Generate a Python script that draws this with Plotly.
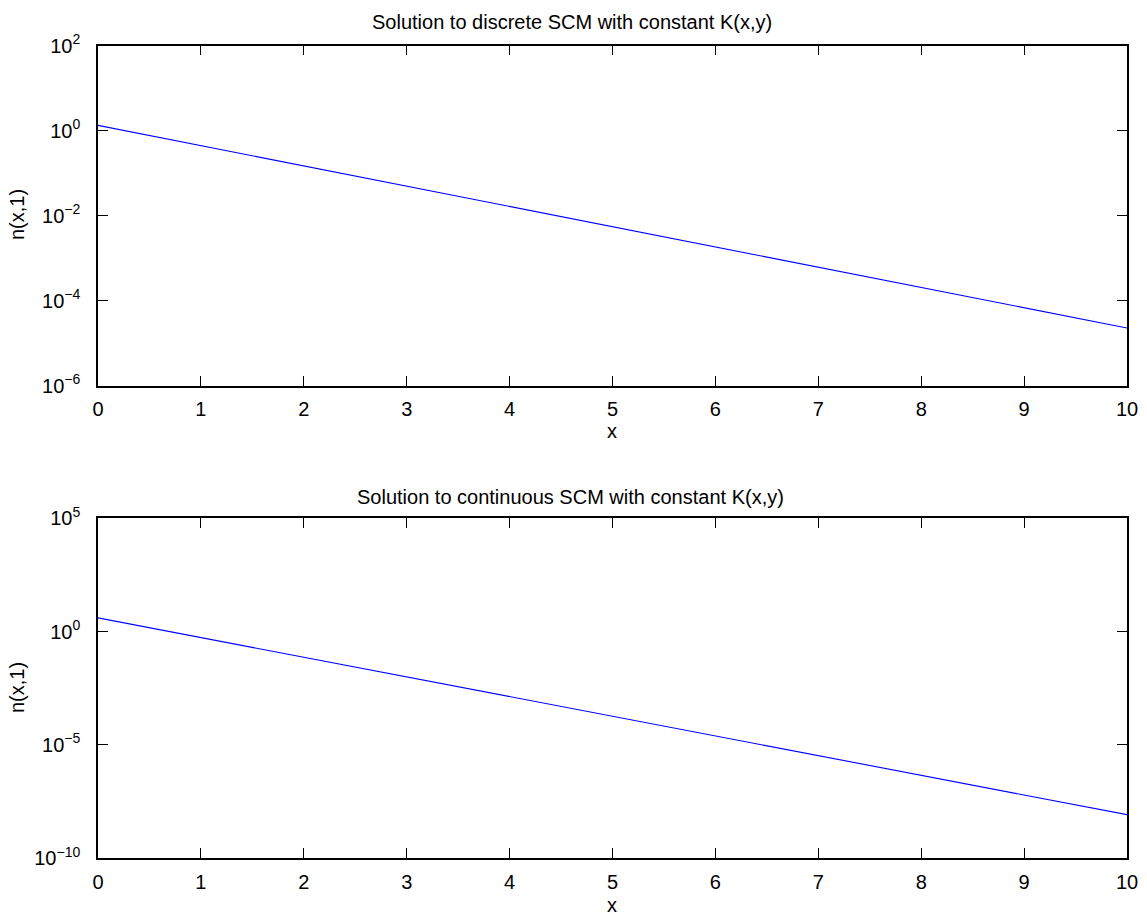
import plotly.graph_objects as go

# Data
x_vals = [0, 1, 2, 3, 4, 5, 6, 7, 8, 9, 10]
n_discrete = [1.33, 0.444, 0.148, 0.0494, 0.0165, 0.00549, 0.00183, 6.1e-4, 2.03e-4, 6.8e-5, 2.26e-5]
n_continuous = [4.0, 0.54, 0.073, 0.0099, 1.34e-3, 1.8e-4, 2.5e-5, 3.3e-6, 4.5e-7, 6.1e-8, 8.2e-9]

x_ticks = [0, 1, 2, 3, 4, 5, 6, 7, 8, 9, 10]
y_ticks_top = [1e-6, 1e-4, 1e-2, 1e0, 1e2]
y_ticktext_top = ["10<sup>\u22126</sup>", "10<sup>\u22124</sup>", "10<sup>\u22122</sup>",
                  "10<sup>0</sup>", "10<sup>2</sup>"]
y_ticks_bottom = [1e-10, 1e-5, 1e0, 1e5]
y_ticktext_bottom = ["10<sup>\u221210</sup>", "10<sup>\u22125</sup>", "10<sup>0</sup>",
                     "10<sup>5</sup>"]

title_top = "Solution to discrete SCM with constant K(x,y)"
title_bottom = "Solution to continuous SCM with constant K(x,y)"
xlabel = "x"
ylabel = "n(x,1)"

W, H = 1147, 919
FONT = "Liberation Sans, Arial, Helvetica, sans-serif"

fig = go.Figure()
fig.add_trace(go.Scatter(x=x_vals, y=n_discrete, mode="lines",
                         line=dict(color="#0000ff", width=1.1),
                         xaxis="x", yaxis="y", showlegend=False))
fig.add_trace(go.Scatter(x=x_vals, y=n_continuous, mode="lines",
                         line=dict(color="#0000ff", width=1.1),
                         xaxis="x2", yaxis="y2", showlegend=False))

xd = [98 / W, 1127 / W]
top_dom = [1 - 385.5 / H, 1 - 45.7 / H]
bot_dom = [1 - 858 / H, 1 - 518.3 / H]

axis_common = dict(showline=True, linecolor="black", linewidth=1.5, mirror="ticks",
                   ticks="inside", ticklen=10, tickwidth=1, tickcolor="black",
                   showgrid=False, zeroline=False, automargin=False,
                   tickfont=dict(family=FONT, size=20, color="black"))
xaxis_common = dict(range=[0, 10], tickvals=x_ticks, ticklabelstandoff=5, **axis_common)

fig.update_layout(
    template="none",
    width=W, height=H, autosize=False,
    margin=dict(l=0, r=0, t=0, b=0, pad=0),
    paper_bgcolor="white", plot_bgcolor="white",
    xaxis=dict(domain=xd, anchor="y", **xaxis_common),
    yaxis=dict(domain=top_dom, anchor="x", type="log", range=[-6, 2],
               tickvals=y_ticks_top, ticktext=y_ticktext_top, ticklabelstandoff=12,
               **axis_common),
    xaxis2=dict(domain=xd, anchor="y2", **xaxis_common),
    yaxis2=dict(domain=bot_dom, anchor="x2", type="log", range=[-10, 5],
                tickvals=y_ticks_bottom, ticktext=y_ticktext_bottom, ticklabelstandoff=12,
                **axis_common),
)

def ann(text, x, y, angle=0, size=20):
    fig.add_annotation(text=text, x=x, y=y, xref="paper", yref="paper",
                       xanchor="center", yanchor="middle", showarrow=False,
                       textangle=angle, font=dict(family=FONT, size=size, color="black"))

cx = (xd[0] + xd[1]) / 2
ann(title_top, 572 / W, 1 - 22 / H, size=20)
ann(title_bottom, 570 / W, 1 - 497 / H, size=20)
ann(xlabel, cx, 1 - 431 / H)
ann(xlabel, cx, 1 - 905 / H)
ann(ylabel, 17 / W, 1 - 215 / H, angle=-90)
ann(ylabel, 17 / W, 1 - 688 / H, angle=-90)

fig.write_html("out.html", config={"displayModeBar": False},
               post_script="document.body.style.margin='0';")
